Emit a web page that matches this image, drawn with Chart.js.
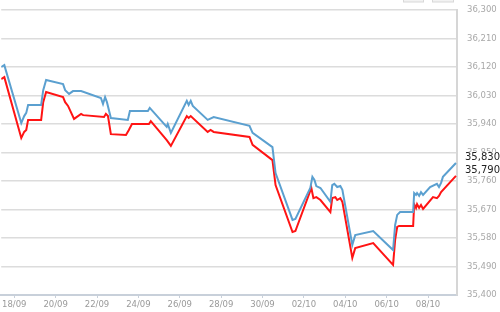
<!DOCTYPE html>
<html>
<head>
<meta charset="utf-8">
<script src="https://cdn.jsdelivr.net/npm/chart.js@4/dist/chart.umd.min.js"></script>
<style>
  body { margin: 0; background: #fff; }
  canvas { display: block; }
</style>
</head>
<body>
<canvas id="rateChart" width="500" height="312"></canvas>
<script>
// days counted from 18/09
var tickDays = [0, 2, 4, 6, 8, 10, 12, 14, 16, 18, 20];
var tickLabels = ['18/09', '20/09', '22/09', '24/09', '26/09', '28/09', '30/09', '02/10', '04/10', '06/10', '08/10'];

var blueDays = [-0.63, -0.48, 0.34, 0.48, 0.58, 0.67, 1.30, 1.40, 1.54, 2.36, 2.46, 2.65, 2.84, 3.23,
  4.19, 4.29, 4.39, 4.48, 4.67, 5.49, 5.59, 6.46, 6.55, 7.37, 7.42, 7.57, 8.34, 8.43, 8.53, 8.63,
  9.35, 9.64, 11.37, 11.52, 12.48, 12.63, 13.45, 13.59, 14.31, 14.41, 14.51, 14.60, 14.80, 15.28,
  15.37, 15.47, 15.61, 15.76, 15.86, 16.34, 16.48, 17.35, 18.31, 18.41, 18.51, 18.65, 19.28, 19.33,
  19.42, 19.47, 19.57, 19.66, 19.76, 20.10, 20.43, 20.53, 20.63, 20.72, 21.35];
var blueValues = [36120, 36126, 35943, 35965, 35975, 36000, 36000, 36047, 36079, 36066, 36047, 36035, 36044, 36044,
  36022, 36003, 36025, 36009, 35959, 35953, 35981, 35981, 35991, 35931, 35940, 35912, 36013, 36000, 36013, 35997,
  35953, 35962, 35934, 35912, 35867, 35785, 35637, 35640, 35738, 35773, 35763, 35744, 35738, 35694,
  35747, 35751, 35741, 35744, 35732, 35558, 35589, 35602, 35542, 35621, 35653, 35662, 35662, 35722,
  35716, 35722, 35713, 35725, 35716, 35741, 35751, 35741, 35754, 35773, 35817];

var redDays = [-0.63, -0.48, 0.34, 0.48, 0.58, 0.67, 1.30, 1.40, 1.54, 2.36, 2.46, 2.60, 2.89, 3.23, 3.33,
  4.34, 4.43, 4.53, 4.67, 5.40, 5.54, 5.69, 6.51, 6.60, 7.37, 7.57, 8.34, 8.43, 8.53, 9.35, 9.49, 9.64,
  11.37, 11.52, 12.48, 12.63, 13.45, 13.59, 14.36, 14.46, 14.60, 14.80, 15.28, 15.37, 15.52, 15.61,
  15.76, 15.86, 16.34, 16.48, 17.35, 18.31, 18.41, 18.51, 18.60, 18.70, 19.28, 19.33, 19.42, 19.47,
  19.57, 19.66, 19.76, 20.24, 20.43, 20.53, 20.63, 21.35];
var redValues = [36082, 36088, 35896, 35915, 35921, 35953, 35953, 36009, 36041, 36025, 36009, 35997, 35956, 35972, 35968,
  35962, 35972, 35965, 35908, 35905, 35921, 35940, 35940, 35949, 35889, 35871, 35965, 35959, 35965, 35915, 35921, 35915,
  35899, 35874, 35826, 35747, 35599, 35602, 35738, 35706, 35709, 35700, 35662, 35706, 35709, 35700,
  35706, 35694, 35517, 35548, 35564, 35495, 35574, 35615, 35618, 35618, 35618, 35687, 35675, 35687,
  35675, 35684, 35672, 35709, 35706, 35713, 35725, 35776];

var lastLabels = ['35,830', '35,790'];

function toPoints(xs, ys) {
  return xs.map(function (x, i) { return { x: x, y: ys[i] }; });
}

// labels for the latest values, on the right axis
var lastValuePlugin = {
  id: 'lastValue',
  afterDraw: function (chart) {
    var c = chart.ctx;
    var yScale = chart.scales.y;
    c.save();
    c.font = '10px "DejaVu Sans"';
    c.textBaseline = 'middle';
    c.textAlign = 'left';
    chart.data.datasets.forEach(function (ds, i) {
      var last = ds.data[ds.data.length - 1];
      var y = yScale.getPixelForValue(last.y) - 6;
      c.fillStyle = '#fff';
      c.fillRect(chart.chartArea.right + 4, y - 5, 43, 10);
      c.fillStyle = '#222';
      c.fillText(lastLabels[i], chart.chartArea.right + 8, y);
    });
    // two small buttons at the top
    c.fillStyle = '#f2f2f2';
    c.strokeStyle = '#d8d8d8';
    c.lineWidth = 1;
    c.fillRect(403, -10, 20, 12);
    c.strokeRect(403.5, -10, 20, 12);
    c.fillRect(432, -10, 21, 12);
    c.strokeRect(432.5, -10, 21, 12);
    c.restore();
  }
};

var ctx = document.getElementById('rateChart').getContext('2d');

var chart = new Chart(ctx, {
  type: 'line',
  data: {
    datasets: [{
      label: 'blue',
      data: toPoints(blueDays, blueValues),
      borderColor: '#5ba0d0',
      borderWidth: 2,
      pointRadius: 0,
      tension: 0,
      fill: false
    }, {
      label: 'red',
      data: toPoints(redDays, redValues),
      borderColor: '#ff1414',
      borderWidth: 2,
      pointRadius: 0,
      tension: 0,
      fill: false
    }]
  },
  options: {
    responsive: false,
    animation: false,
    layout: { padding: { top: 10, left: 0, right: 0, bottom: 0 } },
    plugins: { legend: { display: false }, tooltip: { enabled: false } },
    scales: {
      x: {
        type: 'linear',
        min: -0.63,
        max: 21.4,
        afterBuildTicks: function (s) {
          s.ticks = tickDays.map(function (d) { return { value: d }; });
        },
        afterFit: function (s) { s.height = 17; },
        grid: { drawOnChartArea: false, drawTicks: true, tickLength: 3, color: '#c8d0da' },
        border: { color: '#c8d0da', width: 2 },
        ticks: {
          autoSkip: false,
          maxRotation: 0,
          padding: 2,
          color: '#9a9a9a',
          font: { family: 'DejaVu Sans', size: 8.5 },
          callback: function (v) { return tickLabels[tickDays.indexOf(v)]; }
        }
      },
      y: {
        position: 'right',
        min: 35400,
        max: 36300,
        afterFit: function (s) { s.width = 43; },
        grid: { color: '#dcdcdc', lineWidth: 1.5, drawTicks: true, tickLength: 10, tickColor: 'rgba(0,0,0,0)' },
        border: { color: '#d6d6d6', width: 2 },
        ticks: {
          stepSize: 90,
          padding: 0,
          color: '#a8a8a8',
          font: { family: 'DejaVu Sans', size: 8.5 },
          callback: function (v) { return v.toLocaleString('en-US'); }
        }
      }
    }
  },
  plugins: [lastValuePlugin]
});
</script>
</body>
</html>
